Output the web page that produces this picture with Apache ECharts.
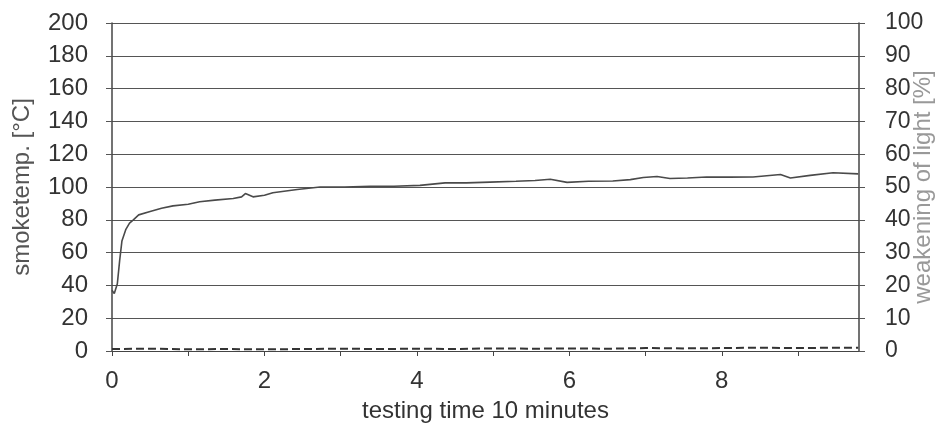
<!DOCTYPE html>
<html>
<head>
<meta charset="utf-8">
<script src="https://cdn.jsdelivr.net/npm/echarts@6/dist/echarts.min.js"></script>
<style>
html,body{margin:0;padding:0;background:#fff;}
#c{width:941px;height:430px;}
</style>
</head>
<body>
<div id="c"></div>
<script>
// testing time (minutes)
var tempTime = [0, 0.03, 0.07, 0.1, 0.13, 0.18, 0.23, 0.28, 0.35, 0.5, 0.65, 0.8, 1.0, 1.15, 1.35, 1.59, 1.7, 1.75, 1.85, 2.0, 2.11, 2.43, 2.73, 3.05, 3.39, 3.7, 4.04, 4.37, 4.65, 4.96, 5.3, 5.55, 5.75, 5.97, 6.25, 6.57, 6.8, 6.97, 7.15, 7.32, 7.55, 7.8, 8.1, 8.41, 8.77, 8.9, 9.16, 9.46, 9.79];
// smoke temperature [°C]
var smokeTemp = [37, 35, 41, 55, 67, 74, 78, 80, 83, 85, 87, 88.5, 89.5, 91, 92, 93, 94, 96, 94, 95, 96.5, 98.5, 100, 100, 100.5, 100.5, 101, 102.5, 102.5, 103, 103.5, 104, 104.7, 102.8, 103.5, 103.7, 104.5, 105.8, 106.4, 105.2, 105.5, 106.1, 106, 106.1, 107.6, 105.5, 107.1, 108.7, 108];
// weakening of light [%]
var lightTime = [0, 0.5, 1, 1.5, 2, 2.5, 3, 3.5, 4, 4.5, 5, 5.5, 6, 6.5, 7, 7.5, 8, 8.5, 9, 9.5, 9.79];
var lightWeak = [0.6, 0.7, 0.5, 0.6, 0.5, 0.6, 0.7, 0.6, 0.7, 0.6, 0.8, 0.7, 0.8, 0.7, 0.9, 0.8, 0.9, 1.0, 0.9, 1.0, 1.0];
var xTicks = [0, 2, 4, 6, 8];

var tempData = tempTime.map(function (t, i) { return [t, smokeTemp[i]]; });
var lightData = lightTime.map(function (t, i) { return [t, lightWeak[i]]; });

var chart = echarts.init(document.getElementById('c'));
var font = 'Liberation Sans, Arial, sans-serif';
chart.setOption({
  animation: false,
  backgroundColor: '#fff',
  grid: { left: 112, right: 82, top: 23, bottom: 79, containLabel: false, outerBoundsMode: 'none' },
  xAxis: {
    type: 'value', min: 0, max: 9.8, interval: 1,
    name: 'testing time 10 minutes', nameLocation: 'middle', nameGap: 48, nameMoveOverlap: false,
    nameTextStyle: { fontFamily: font, fontSize: 24, color: '#333' },
    axisLine: { show: true, onZero: false, lineStyle: { color: '#444', width: 1 } },
    axisTick: { show: true, length: 5, lineStyle: { color: '#444' } },
    axisLabel: {
      fontFamily: font, fontSize: 24, color: '#333', margin: 18, showMaxLabel: false,
      formatter: function (v) { return xTicks.indexOf(v) >= 0 ? String(v) : ''; }
    },
    splitLine: { show: false }
  },
  yAxis: [{
    type: 'value', min: 0, max: 200, interval: 20, position: 'left',
    name: 'smoketemp. [°C]', nameLocation: 'middle', nameGap: 78, nameRotate: 90, nameMoveOverlap: false,
    nameTextStyle: { fontFamily: font, fontSize: 24, color: '#555' },
    axisLine: { show: true, lineStyle: { color: '#444', width: 1.5 } },
    axisTick: { show: true, length: 6, lineStyle: { color: '#555' } },
    axisLabel: { fontFamily: font, fontSize: 24, color: '#333', margin: 24 },
    splitLine: { show: true, lineStyle: { color: '#555', width: 1.2 } }
  }, {
    type: 'value', min: 0, max: 100, interval: 10, position: 'right',
    name: 'weakening of light [%]', nameLocation: 'middle', nameGap: 52, nameRotate: 90, nameMoveOverlap: false,
    nameTextStyle: { fontFamily: font, fontSize: 24, color: '#999' },
    axisLine: { show: true, lineStyle: { color: '#444', width: 1.5 } },
    axisTick: { show: true, length: 6, lineStyle: { color: '#555' } },
    axisLabel: { fontFamily: font, fontSize: 23, color: '#333', margin: 26 },
    splitLine: { show: false }
  }],
  series: [{
    type: 'line', name: 'smoke temperature', yAxisIndex: 0, data: tempData,
    showSymbol: false, smooth: false,
    lineStyle: { color: '#4a4a4a', width: 1.6 }
  }, {
    type: 'line', name: 'weakening of light', yAxisIndex: 1, data: lightData,
    showSymbol: false,
    lineStyle: { color: '#333', width: 2, type: [8, 4] }
  }]
});
</script>
</body>
</html>
